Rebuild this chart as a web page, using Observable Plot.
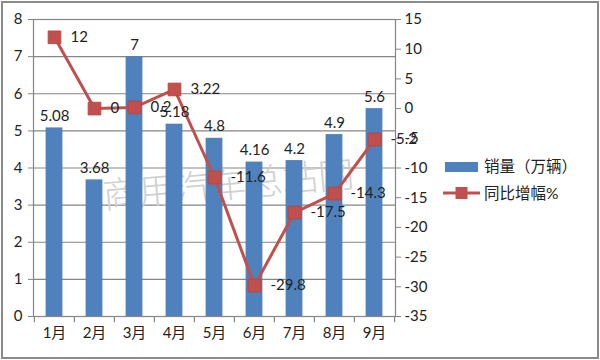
<!DOCTYPE html>
<html><head><meta charset="utf-8">
<script src="https://cdn.jsdelivr.net/npm/d3@7"></script>
<script src="https://cdn.jsdelivr.net/npm/@observablehq/plot@0.6"></script>
<style>
html,body{margin:0;padding:0;background:#fff;}
#wrap{position:relative;width:600px;height:360px;overflow:hidden;font-family:Lato,"Noto Sans CJK SC",sans-serif;}
#border{position:absolute;left:1px;top:1px;width:598px;height:358px;box-sizing:border-box;border:2px solid #8a8a8a;pointer-events:none;}
#chart{position:absolute;left:0;top:0;}
.leg{position:absolute;font-size:15.5px;color:#222;font-family:Lato,"Noto Sans CJK SC",sans-serif;line-height:1;}
</style></head>
<body>
<div id="wrap">
  <div id="chart"></div>
  <div id="legend"></div>
  <div id="border"></div>
</div>
<script>
const months = ["1月","2月","3月","4月","5月","6月","7月","8月","9月"];
const sales = [5.08, 3.68, 7, 5.18, 4.8, 4.16, 4.2, 4.9, 5.6];
const growth = [12, 0, 0.2, 3.22, -11.6, -29.8, -17.5, -14.3, -5.2];
const salesLabels = ["5.08","3.68","7","5.18","4.8","4.16","4.2","4.9","5.6"];
const growthLabels = ["12","0","0.2","3.22","-11.6","-29.8","-17.5","-14.3","-5.2"];
const leftTicks = [0,1,2,3,4,5,6,7,8];
const rightTicks = [-35,-30,-25,-20,-15,-10,-5,0,5,10,15];
const seriesNames = ["销量（万辆）","同比增幅%"];
const watermark = "商用汽车总站网";

const blue = "#4F81BD", red = "#C0504D", grid = "#868686";
const rMin = -35, rMax = 15, lMax = 8;
const toLeft = v => (v - rMin) * lMax / (rMax - rMin);
const fromLeft = d => Math.round(d * (rMax - rMin) / lMax + rMin);

const data = months.map((m, i) => ({m, s: sales[i], g: growth[i], sl: salesLabels[i], gl: growthLabels[i], gy: toLeft(growth[i])}));

const W = 600, H = 360, mL = 33, mR = 205, mT = 19, mB = 44;
const bw = (W - mL - mR) / months.length;
const inset = (bw - 17) / 2;

const chart = Plot.plot({
  width: W, height: H,
  marginLeft: mL, marginRight: mR, marginTop: mT, marginBottom: mB,
  style: {fontFamily: 'Lato, "Noto Sans CJK SC", sans-serif', fontSize: "15px", color: "#222", background: "transparent"},
  x: {type: "band", domain: months, padding: 0, label: null},
  y: {domain: [0, lMax], label: null},
  marks: [
    Plot.ruleY(leftTicks, {stroke: grid, strokeWidth: 1.2}),
    Plot.text([watermark], {frameAnchor: "middle", text: d => d, dx: 14, dy: 18, rotate: -5, fontSize: 36, fill: "#d0d0d0", fontWeight: 300}),
    Plot.barY(data, {x: "m", y: "s", fill: blue, insetLeft: inset, insetRight: inset}),
    Plot.frame({stroke: grid, strokeWidth: 1.2}),
    Plot.ruleX(months, {x: d => d, dx: -bw/2, y1: 0, y2: -0.17, stroke: grid, strokeWidth: 1.2}),
    Plot.ruleX([months[months.length-1]], {x: d => d, dx: bw/2, y1: 0, y2: -0.17, stroke: grid, strokeWidth: 1.2}),
    Plot.axisX({tickSize: 0, tickPadding: 11, fontSize: 15, label: null}),
    Plot.axisY(leftTicks, {anchor: "left", tickSize: 5, tickPadding: 6, stroke: grid, fontSize: 15, label: null}),
    Plot.axisY(rightTicks.map(toLeft), {anchor: "right", tickSize: 5, tickPadding: 4, stroke: grid, fontSize: 15, label: null, tickFormat: d => String(fromLeft(d))}),
    Plot.lineY(data, {x: "m", y: "gy", stroke: red, strokeWidth: 3}),
    Plot.dot(data, {x: "m", y: "gy", symbol: "square", r: 7.2, fill: red, stroke: "#b8423f", strokeWidth: 0.8}),
    Plot.text(data, {x: "m", y: "s", text: "sl", lineAnchor: "bottom", dy: -7, fontSize: 15, fill: "#222"}),
    Plot.text(data, {x: "m", y: "gy", text: "gl", textAnchor: "start", dx: 16, fontSize: 15, fill: "#222"})
  ]
});
document.getElementById("chart").appendChild(chart);

const leg = document.getElementById("legend");
leg.innerHTML = `
<svg style="position:absolute;left:440px;top:155px" width="45" height="50">
  <rect x="5" y="7" width="33" height="10" fill="${blue}"/>
  <line x1="3" y1="38" x2="40" y2="38" stroke="${red}" stroke-width="3"/>
  <rect x="15.5" y="32" width="12" height="12" fill="${red}"/>
</svg>
<div class="leg" style="left:484px;top:159px">${seriesNames[0]}</div>
<div class="leg" style="left:484px;top:186px">${seriesNames[1]}</div>`;
</script>
</body></html>
